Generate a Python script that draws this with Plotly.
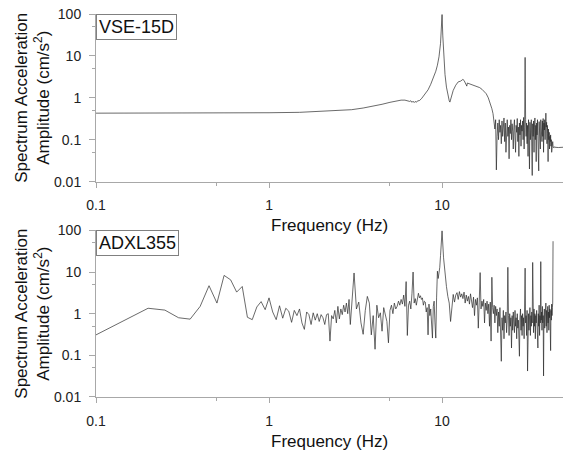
import numpy as np
import plotly.graph_objects as go

# ---------------- VSE-15D spectrum ----------------
# smooth low-frequency part (Hz, cm/s^2)
vse_freq_smooth = [0.1, 0.2, 0.3, 0.5, 0.7, 1.0, 1.5, 2.0, 2.5, 3.0, 3.5, 4.0, 4.5,
                   5.0, 5.5, 5.8, 6.1, 6.3, 6.5, 6.6, 6.7, 6.8, 6.9, 7.0, 7.1, 7.2,
                   7.4, 7.6, 7.8, 8.0, 8.3, 8.6, 8.9, 9.2, 9.4, 9.6, 9.8, 9.9, 10.0,
                   10.1, 10.2, 10.4, 10.6, 10.8, 11.0, 11.1, 11.3, 11.6, 12.0, 12.4,
                   12.8, 13.0, 13.2, 13.4, 13.6, 13.9, 14.0, 14.5, 15.0, 15.5, 16.0,
                   16.5, 17.0, 17.5, 18.0, 18.5, 19.0, 19.4, 19.7, 20.0]
vse_amp_smooth = [0.43, 0.43, 0.43, 0.435, 0.44, 0.44, 0.45, 0.47, 0.49, 0.52, 0.57,
                  0.63, 0.70, 0.78, 0.85, 0.88, 0.88, 0.86, 0.82, 0.85, 0.78, 0.83,
                  0.77, 0.82, 0.78, 0.84, 0.86, 0.95, 1.1, 1.25, 1.55, 2.1, 2.9, 4.3,
                  6.0, 9.5, 20, 40, 97, 30, 11, 3.6, 1.8, 1.1, 0.85, 0.79, 1.0, 1.5,
                  2.0, 2.4, 2.5, 2.6, 2.75, 2.6, 2.3, 1.9, 2.25, 2.15, 2.05, 1.95,
                  1.9, 1.75, 1.6, 1.45, 1.25, 1.0, 0.75, 0.55, 0.42, 0.28]
# noisy part, 20.2 Hz onward in 0.2 Hz bins
vse_f0_noisy, vse_df_noisy = 20.2, 0.2
vse_amp_noisy = [
    0.18, 0.30, 0.019, 0.12, 0.25,
    0.10, 0.30, 0.15, 0.22, 0.08,
    0.28, 0.12, 0.20, 0.33, 0.09,
    0.25, 0.05, 0.18, 0.30, 0.12,
    0.20, 0.035, 0.22, 0.14, 0.30,
    0.10, 0.24, 0.16, 0.06, 0.20,
    0.30, 0.11, 0.05, 0.22, 0.15,
    0.32, 0.09, 0.20, 0.04, 0.25,
    0.13, 0.30, 0.07, 0.22, 0.16,
    0.28, 0.10, 0.34, 0.06, 0.20,
    9.2, 0.30, 0.12, 0.25, 0.08,
    0.22, 0.04, 0.30, 0.15, 0.02,
    0.26, 0.10, 0.18, 0.30, 0.06,
    0.014, 0.24, 0.12, 0.28, 0.05,
    0.20, 0.33, 0.10, 0.22, 0.03,
    0.25, 0.13, 0.30, 0.08, 0.20,
    0.018, 0.27, 0.12, 0.22, 0.06,
    0.30, 0.15, 0.24, 0.09, 0.28,
    0.12, 0.32, 0.05, 0.25, 0.17,
    0.30, 0.10, 0.35, 0.43, 0.20,
    0.26, 0.08, 0.22, 0.14, 0.03,
    0.18, 0.10, 0.15, 0.06, 0.12,
    0.09, 0.13, 0.07, 0.10, 0.05,
    0.08, 0.06, 0.09, 0.07, 0.065,
    0.07, 0.066, 0.068, 0.065, 0.066,
]
vse_freq_tail = [47.0, 50.0]
vse_amp_tail = [0.065, 0.066]

# ---------------- ADXL355 spectrum ----------------
adxl_f0_a, adxl_df_a = 0.10, 0.05   # 0.10 - 3.00 Hz
adxl_amp_a = [
    0.31, 0.75, 1.35, 1.22, 0.80, 0.74, 1.5, 4.7, 1.8, 8.3,
    6.5, 3.3, 4.5, 0.82, 0.72, 1.45, 1.95, 1.25, 2.4, 1.1,
    0.72, 1.55, 0.78, 1.35, 1.15, 0.62, 1.2, 0.9, 1.3, 0.6,
    0.42, 1.1, 0.95, 0.55, 1.05, 0.7, 1.0, 0.65, 0.95, 0.8,
    0.55, 0.95, 1.0, 0.22, 0.9, 0.75, 1.2, 0.6, 1.5, 0.75,
    1.3, 0.95, 1.6, 1.1, 1.8, 1.0, 2.2, 0.55, 1.6,
]
adxl_f0_b, adxl_df_b = 3.1, 0.1     # 3.1 - 10.0 Hz
adxl_amp_b = [
    9.5, 1.3, 1.9, 0.6, 0.32, 1.2, 2.6, 1.8, 0.31, 0.9,
    0.14, 1.6, 0.8, 1.05, 0.38, 1.4, 0.9, 0.65, 0.2, 1.2,
    1.6, 1.0, 1.8, 1.3, 1.5, 2.0, 1.6, 2.2, 1.7, 2.8,
    1.5, 5.9, 0.3, 1.6, 2.0, 1.3, 3.0, 10.0, 1.8, 2.3,
    1.6, 2.6, 3.1, 2.4, 2.7, 2.2, 2.4, 1.6, 2.0, 1.9,
    1.1, 1.4, 0.31, 1.7, 0.9, 1.3, 0.6, 0.26, 1.5, 2.0,
    0.6, 0.26, 2.5, 10.5, 7.0, 9.0, 13, 25, 50, 98,
]
adxl_f0_c, adxl_df_c = 10.2, 0.2    # 10.2 - 43.8 Hz
adxl_amp_c = [
    22, 9.0, 4.5, 2.6, 1.8,
    0.65, 1.8, 2.9, 1.9, 2.8,
    3.2, 2.2, 3.4, 2.5, 3.0,
    2.3, 3.3, 1.8, 2.8, 2.0,
    2.6, 1.7, 3.0, 2.2, 1.4,
    2.5, 0.9, 2.2, 1.6, 2.4,
    0.45, 1.9, 9.7, 1.3, 2.0,
    1.5, 2.2, 0.6, 1.8, 1.2,
    2.0, 1.0, 1.7, 0.5, 1.9,
    0.22, 7.5, 1.4, 1.0, 1.6,
    0.6, 1.5, 0.9, 1.3, 0.35,
    1.1, 0.5, 1.4, 0.3, 0.072,
    0.8, 0.4, 1.2, 0.25, 0.9,
    0.6, 1.1, 0.35, 0.7, 13,
    0.9, 0.3, 1.0, 0.5, 0.8,
    0.15, 0.9, 0.4, 1.1, 0.6,
    0.35, 1.2, 0.5, 0.8, 0.25,
    1.0, 0.45, 0.7, 0.2, 0.095,
    0.8, 1.3, 0.4, 0.9, 0.3,
    1.0, 0.5, 0.8, 0.25, 1.1,
    12.4, 0.6, 0.9, 0.3, 1.2,
    0.042, 0.7, 1.0, 0.4, 0.8,
    1.4, 0.3, 0.9, 0.5, 1.1,
    0.6, 17, 0.8, 0.35, 1.3,
    0.5, 1.0, 0.25, 0.9, 0.6,
    1.2, 0.4, 0.8, 0.15, 1.0,
    0.5, 1.6, 0.3, 0.9, 0.6,
    17.8, 0.7, 1.1, 0.4, 1.5,
    0.6, 0.9, 0.032, 0.8, 1.3,
    0.45, 1.0, 0.7, 1.8, 0.5,
    1.2, 0.35, 0.9, 1.5, 0.6,
    1.1, 0.4, 1.6, 0.8, 1.3,
    0.5, 0.13, 1.2, 0.7, 1.7,
    0.9, 1.4, 1.8, 55,
]

x_tickvals = [0.1, 1, 10]
x_ticktext = ["0.1", "1", "10"]
y_tickvals = [0.01, 0.1, 1, 10, 100]
y_ticktext = ["0.01", "0.1", "1", "10", "100"]
panel_labels = ["VSE-15D", "ADXL355"]


def bins(f0, df, amps):
    return list(np.round(f0 + df * np.arange(len(amps)), 3))


vse_freq = vse_freq_smooth + bins(vse_f0_noisy, vse_df_noisy, vse_amp_noisy) + vse_freq_tail
vse_amp = vse_amp_smooth + vse_amp_noisy + vse_amp_tail
adxl_freq = (bins(adxl_f0_a, adxl_df_a, adxl_amp_a) + bins(adxl_f0_b, adxl_df_b, adxl_amp_b)
             + bins(adxl_f0_c, adxl_df_c, adxl_amp_c))
adxl_amp = adxl_amp_a + adxl_amp_b + adxl_amp_c

FONT = "Liberation Sans, Arial, sans-serif"
AXIS_GRAY = "#a8a8a8"

fig = go.Figure()
line_style = dict(color="#2a2a2a", width=0.7)
fig.add_trace(go.Scatter(x=vse_freq, y=vse_amp, mode="lines", line=line_style,
                         xaxis="x", yaxis="y", showlegend=False))
fig.add_trace(go.Scatter(x=adxl_freq, y=adxl_amp, mode="lines", line=line_style,
                         xaxis="x2", yaxis="y2", showlegend=False))

xaxis_common = dict(type="log", range=[-1, np.log10(50)], tickvals=x_tickvals,
                    ticktext=x_ticktext, showgrid=False, zeroline=False,
                    showline=True, linecolor=AXIS_GRAY, linewidth=1,
                    ticks="outside", ticklen=5, tickcolor=AXIS_GRAY,
                    ticklabelstandoff=6,
                    tickfont=dict(family=FONT, size=14, color="#222222"),
                    minor=dict(tickvals=[0.5, 5, 50], ticks="outside", ticklen=3,
                               tickcolor=AXIS_GRAY))
yaxis_common = dict(type="log", range=[-2, 2], tickvals=y_tickvals,
                    ticktext=y_ticktext, showgrid=False, zeroline=False,
                    showline=True, linecolor=AXIS_GRAY, linewidth=1,
                    ticks="outside", ticklen=6, tickcolor=AXIS_GRAY,
                    ticklabelstandoff=5,
                    tickfont=dict(family=FONT, size=14, color="#222222"),
                    minor=dict(tickvals=[0.05, 0.5, 5, 50], ticks="outside", ticklen=3,
                               tickcolor=AXIS_GRAY))

top_dom = [0.5624, 1.0]
bot_dom = [0.0, 0.435]

fig.update_layout(
    width=563, height=452,
    margin=dict(l=96, r=0, t=14, b=55),
    paper_bgcolor="white", plot_bgcolor="white",
    xaxis=dict(xaxis_common, domain=[0, 1], anchor="y"),
    yaxis=dict(yaxis_common, domain=top_dom, anchor="x"),
    xaxis2=dict(xaxis_common, domain=[0, 1], anchor="y2"),
    yaxis2=dict(yaxis_common, domain=bot_dom, anchor="x2"),
)

annotations = []
for label, xref, yref, dom in [(panel_labels[0], "x domain", "y domain", top_dom),
                               (panel_labels[1], "x2 domain", "y2 domain", bot_dom)]:
    # panel label box in the upper-left corner
    annotations.append(dict(text=label, xref=xref, yref=yref, x=0, y=1,
                            xanchor="left", yanchor="top", showarrow=False,
                            font=dict(family=FONT, size=18, color="#111111"),
                            bordercolor="#808080", borderwidth=1, borderpad=2,
                            bgcolor="white"))
    # x-axis title
    annotations.append(dict(text="Frequency (Hz)", xref="paper", yref="paper",
                            x=0.5, y=dom[0], yshift=-44, xanchor="center",
                            yanchor="middle", showarrow=False,
                            font=dict(family=FONT, size=17, color="#111111")))
    # y-axis title
    annotations.append(dict(text="Spectrum Acceleration<br>Amplitude (cm/s<sup>2</sup>)",
                            xref="paper", yref="paper",
                            x=(33 - 96) / 467, y=(dom[0] + dom[1]) / 2,
                            xanchor="center", yanchor="middle", textangle=-90,
                            showarrow=False,
                            font=dict(family=FONT, size=17, color="#111111")))
fig.update_layout(annotations=annotations)

fig.write_html("out.html")
